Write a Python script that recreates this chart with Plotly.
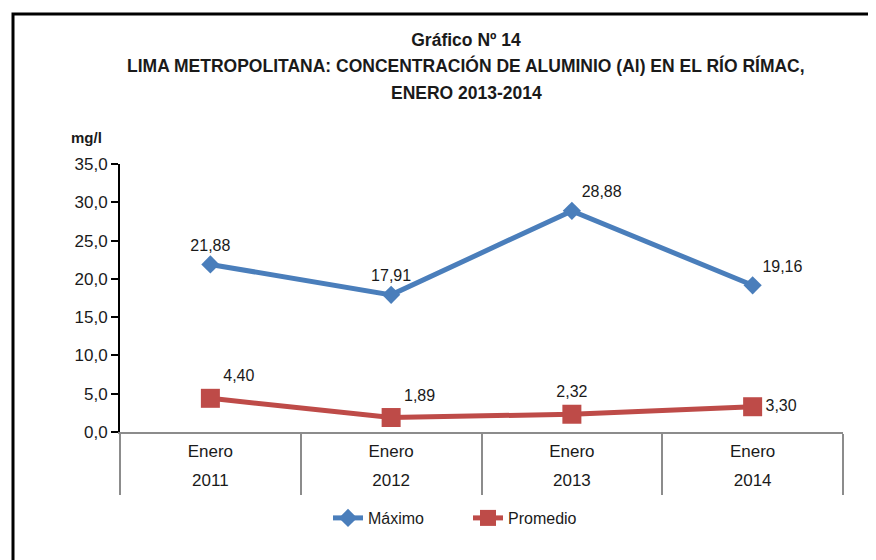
import plotly.graph_objects as go

months = ["Enero", "Enero", "Enero", "Enero"]
years = ["2011", "2012", "2013", "2014"]
maximo = [21.88, 17.91, 28.88, 19.16]
promedio = [4.40, 1.89, 2.32, 3.30]
y_ticks = [0, 5, 10, 15, 20, 25, 30, 35]

BLUE = "#4A7EBB"
RED = "#BE4B48"
FONT = "Liberation Sans, Arial, sans-serif"

cats = [f"{m} {y}" for m, y in zip(months, years)]

def fmt(v):
    return f"{v:.2f}".replace(".", ",")

W, H = 876, 560
OFF = 8  # page body margin
# plot area in screen pixels: x 120..843, y 164..432
L, T = 120 - OFF, 164 - OFF
R, B = W - (843 - OFF), H - (432 - OFF)
pw, ph = W - L - R, H - T - B

def px_x(x):
    return (x - OFF - L) / pw

def px_y(y):
    return (H - B - (y - OFF)) / ph

fig = go.Figure()
fig.add_trace(go.Scatter(
    x=cats, y=maximo, name="Máximo", mode="lines+markers+text",
    line=dict(color=BLUE, width=5),
    marker=dict(symbol="diamond", size=14, color=BLUE),
    text=[fmt(v) for v in maximo],
    textposition=["top center", "top center", "top right", "top right"],
    textfont=dict(size=16, color="#1a1a1a", family=FONT),
))
fig.add_trace(go.Scatter(
    x=cats, y=promedio, name="Promedio", mode="lines+markers+text",
    line=dict(color=RED, width=5),
    marker=dict(symbol="square", size=19, color=RED),
    text=[fmt(v) for v in promedio],
    textposition=["top right", "top right", "top center", "middle right"],
    textfont=dict(size=16, color="#1a1a1a", family=FONT),
))
# invisible helper trace so the year axis is drawn
fig.add_trace(go.Scatter(
    x=[0, 1, 2, 3], y=[None, None, None, None], xaxis="x2", mode="lines",
    showlegend=False, hoverinfo="skip",
))

title_lines = [
    "LIMA METROPOLITANA: CONCENTRACIÓN DE ALUMINIO (Al) EN EL RÍO RÍMAC,",
    "ENERO 2013-2014",
]
title_y = [66, 93]

annotations = [dict(
    text="<b>mg/l</b>", xref="paper", yref="paper", x=px_x(86), y=px_y(137),
    showarrow=False, font=dict(size=15, family=FONT), xanchor="center", yanchor="middle",
)]
for t, yy in zip(title_lines, title_y):
    annotations.append(dict(
        text=f"<b>{t}</b>", xref="paper", yref="paper", x=px_x(466), y=px_y(yy),
        showarrow=False, font=dict(size=17.5, family=FONT, color="#1a1a1a"),
        xanchor="center", yanchor="middle",
    ))

fig.update_layout(
    width=W, height=H,
    margin=dict(l=L, r=R, t=T, b=B, pad=0),
    paper_bgcolor="white", plot_bgcolor="white",
    separators=",.",
    font=dict(family=FONT, size=17, color="#1a1a1a"),
    title=dict(
        text="<b>Gráfico Nº 14</b>",
        xref="container", x=(466 - OFF) / W, xanchor="center",
        yref="container", y=1 - (40 - OFF) / H, yanchor="middle",
        font=dict(size=17.5, family=FONT, color="#1a1a1a"),
    ),
    showlegend=True,
    legend=dict(orientation="h", x=px_x(468), xanchor="center", y=px_y(518), yanchor="middle",
                entrywidth=95, font=dict(size=16, family=FONT)),
    xaxis=dict(
        type="category", categoryorder="array", categoryarray=cats,
        tickmode="array", tickvals=cats, ticktext=months,
        tickson="boundaries", ticks="outside", ticklen=61, tickwidth=2, tickcolor="#8c8c8c",
        showline=True, linecolor="#8c8c8c", linewidth=2,
        showgrid=False, zeroline=False, ticklabelstandoff=3,
        range=[-0.5, 3.5],
    ),
    xaxis2=dict(
        overlaying="x", anchor="y", side="bottom", range=[-0.5, 3.5],
        tickmode="array", tickvals=[0, 1, 2, 3], ticktext=years,
        ticks="", showline=False, showgrid=False, zeroline=False,
        ticklabelstandoff=36,
    ),
    yaxis=dict(
        range=[0, 35], tickmode="array", tickvals=y_ticks, tickformat=".1f",
        ticks="outside", ticklen=7, tickwidth=2, tickcolor="black",
        showline=True, linecolor="black", linewidth=2,
        showgrid=False, zeroline=False,
    ),
    annotations=annotations,
    shapes=[dict(
        type="rect", xref="paper", yref="paper",
        x0=px_x(13), x1=px_x(900), y0=px_y(600), y1=px_y(14),
        line=dict(color="black", width=3),
    )],
)

fig.write_html("out.html")
